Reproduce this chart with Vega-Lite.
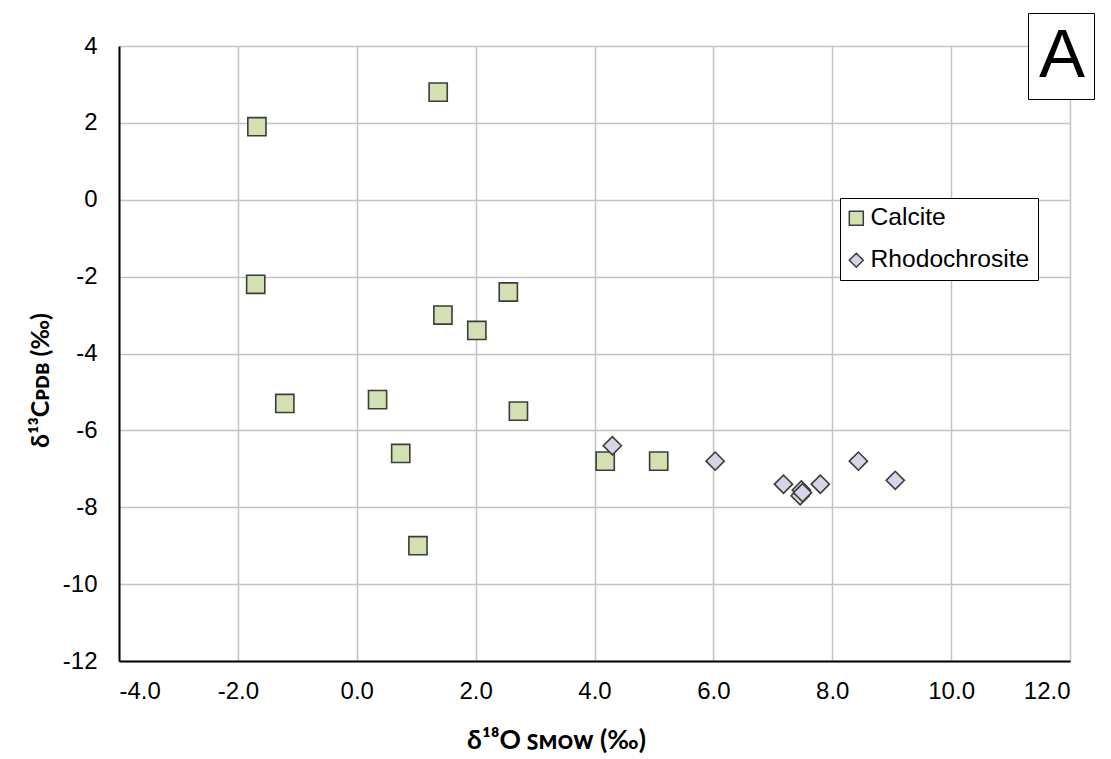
{
  "$schema": "https://vega.github.io/schema/vega-lite/v6.json",
  "width": 951,
  "height": 615,
  "autosize": {"type": "none"},
  "padding": {"left": 119, "top": 46, "right": 41, "bottom": 98},
  "background": "white",
  "config": {
    "view": {"stroke": null},
    "font": "Liberation Sans"
  },
  "data": {
    "values": [
      {"mineral": "Calcite", "d18O": -1.68, "d13C": 1.9, "panel": "A"},
      {"mineral": "Calcite", "d18O": 1.37, "d13C": 2.8, "panel": "A"},
      {"mineral": "Calcite", "d18O": -1.7, "d13C": -2.2, "panel": "A"},
      {"mineral": "Calcite", "d18O": 2.55, "d13C": -2.4, "panel": "A"},
      {"mineral": "Calcite", "d18O": 1.45, "d13C": -3.0, "panel": "A"},
      {"mineral": "Calcite", "d18O": 2.02, "d13C": -3.4, "panel": "A"},
      {"mineral": "Calcite", "d18O": -1.21, "d13C": -5.3, "panel": "A"},
      {"mineral": "Calcite", "d18O": 0.35, "d13C": -5.2, "panel": "A"},
      {"mineral": "Calcite", "d18O": 2.72, "d13C": -5.5, "panel": "A"},
      {"mineral": "Calcite", "d18O": 0.74, "d13C": -6.6, "panel": "A"},
      {"mineral": "Calcite", "d18O": 1.03, "d13C": -9.0, "panel": "A"},
      {"mineral": "Calcite", "d18O": 4.18, "d13C": -6.8, "panel": "A"},
      {"mineral": "Calcite", "d18O": 5.08, "d13C": -6.8, "panel": "A"},
      {"mineral": "Rhodochrosite", "d18O": 4.3, "d13C": -6.4, "panel": "A"},
      {"mineral": "Rhodochrosite", "d18O": 6.03, "d13C": -6.8, "panel": "A"},
      {"mineral": "Rhodochrosite", "d18O": 7.18, "d13C": -7.4, "panel": "A"},
      {"mineral": "Rhodochrosite", "d18O": 7.48, "d13C": -7.55, "panel": "A"},
      {"mineral": "Rhodochrosite", "d18O": 7.46, "d13C": -7.7, "panel": "A"},
      {"mineral": "Rhodochrosite", "d18O": 7.5, "d13C": -7.62, "panel": "A"},
      {"mineral": "Rhodochrosite", "d18O": 7.8, "d13C": -7.4, "panel": "A"},
      {"mineral": "Rhodochrosite", "d18O": 8.44, "d13C": -6.8, "panel": "A"},
      {"mineral": "Rhodochrosite", "d18O": 9.06, "d13C": -7.3, "panel": "A"}
    ]
  },
  "mark": {"type": "point", "filled": true, "stroke": "#3c3c3c", "strokeWidth": 1.6, "size": 330, "opacity": 1},
  "encoding": {
    "x": {
      "field": "d18O", "type": "quantitative",
      "scale": {"domain": [-4, 12], "nice": false, "zero": false},
      "axis": {
        "values": [-4, -2, 0, 2, 4, 6, 8, 10, 12],
        "labelExpr": "(datum.value < 0 ? '-' : '') + format(abs(datum.value), '.1f')",
        "title": "δ¹⁸O ꜱᴍᴏᴡ (‰)",
        "titleFont": "Lato", "titleFontSize": 26.5, "titleFontWeight": "bold", "titleColor": "black",
        "titleX": 437, "titleY": 87, "titleBaseline": "alphabetic", "titleAlign": "center", "titleAnchor": null,
        "labelFontSize": 24, "labelColor": "black", "labelPadding": 18,
        "ticks": false, "domainColor": "black", "domainWidth": 2,
        "grid": true, "gridColor": "#c4c4c4", "gridWidth": 1.5
      }
    },
    "y": {
      "field": "d13C", "type": "quantitative",
      "scale": {"domain": [-12, 4], "nice": false, "zero": false},
      "axis": {
        "values": [-12, -10, -8, -6, -4, -2, 0, 2, 4],
        "labelExpr": "(datum.value < 0 ? '-' : '') + format(abs(datum.value), 'd')",
        "title": "δ¹³Cᴘᴅʙ (‰)",
        "titleFont": "Lato", "titleFontSize": 25, "titleFontWeight": "bold", "titleColor": "black",
        "titleX": -79, "titleY": 334, "titleBaseline": "middle", "titleAlign": "center", "titleAnchor": null,
        "labelFontSize": 24, "labelColor": "black", "labelPadding": 22,
        "ticks": false, "domainColor": "black", "domainWidth": 2,
        "grid": true, "gridColor": "#c4c4c4", "gridWidth": 1.5
      }
    },
    "shape": {
      "field": "mineral", "type": "nominal",
      "scale": {"domain": ["Calcite", "Rhodochrosite"], "range": ["square", "diamond"]},
      "legend": null
    },
    "color": {
      "field": "mineral", "type": "nominal",
      "scale": {"domain": ["Calcite", "Rhodochrosite"], "range": ["#d3e0b1", "#d8d4e5"]},
      "legend": {
        "title": null, "orient": "none", "legendX": 721, "legendY": 152,
        "strokeColor": "black", "fillColor": "white", "padding": 8,
        "labelFontSize": 24.6, "labelColor": "black", "labelOffset": 2, "rowPadding": 17,
        "symbolOffset": -4,
        "symbolSize": 196, "symbolStrokeColor": "#3c3c3c", "symbolStrokeWidth": 1.5
      }
    },
    "opacity": {
      "field": "panel", "type": "nominal",
      "scale": {"range": [1, 1]},
      "legend": {
        "title": null, "orient": "none", "legendX": 909, "legendY": -33,
        "strokeColor": "black", "fillColor": "white", "padding": 8,
        "labelFontSize": 69, "labelColor": "black", "labelOffset": -66,
        "symbolSize": 0, "symbolOpacity": 0, "symbolStrokeWidth": 0
      }
    }
  }
}
